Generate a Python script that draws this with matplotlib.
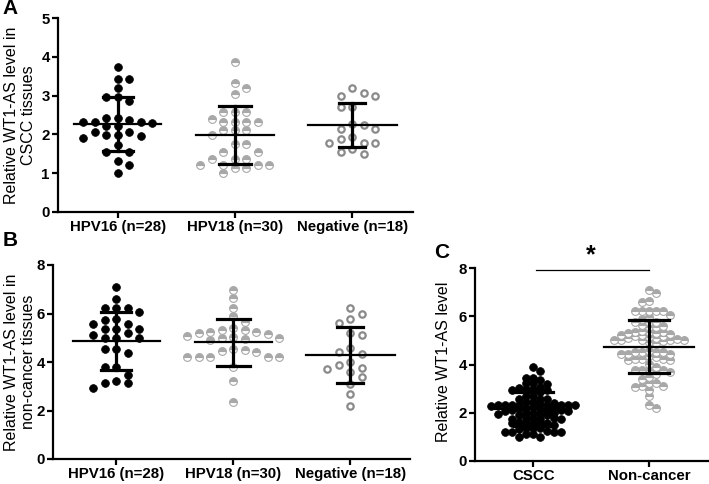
import numpy as np
import matplotlib.pyplot as plt

plt.rcParams['font.family'] = ['Liberation Sans', 'DejaVu Sans']

# ---- data ----
groups_ab = ["HPV16 (n=28)", "HPV18 (n=30)", "Negative (n=18)"]
groups_c = ["CSCC", "Non-cancer"]

a_hpv16 = [3.75, 3.43, 3.43, 3.21, 2.96, 2.96, 2.87, 2.43, 2.43, 2.37, 2.32, 2.32, 2.30, 2.32,
           2.21, 2.21, 2.07, 2.07, 1.98, 1.98, 1.95, 1.90, 1.72, 1.55, 1.55, 1.31, 1.22, 0.99]
a_hpv18 = [3.88, 3.34, 3.21, 3.03, 2.58, 2.58, 2.58, 2.40, 2.32, 2.32, 2.32, 2.32, 2.11, 2.11, 2.11,
           1.98, 1.74, 1.74, 1.55, 1.55, 1.35, 1.35, 1.35, 1.21, 1.21, 1.21, 1.21, 1.12, 1.12, 0.99]
a_neg = [3.19, 3.08, 3.00, 3.00, 2.70, 2.70, 2.27, 2.24, 2.13, 2.13, 1.94, 1.88, 1.77, 1.77, 1.77,
         1.61, 1.55, 1.49]

b_hpv16 = [7.10, 6.60, 6.21, 6.21, 6.21, 6.05, 5.78, 5.75, 5.55, 5.55, 5.37, 5.37, 5.35, 5.18,
           5.11, 5.00, 5.00, 5.00, 4.54, 4.54, 4.36, 3.78, 3.78, 3.46, 3.22, 3.12, 3.12, 2.92]
b_hpv18 = [6.97, 6.63, 6.21, 5.88, 5.65, 5.40, 5.33, 5.30, 5.25, 5.22, 5.18, 5.15, 5.08, 5.02, 5.00,
           4.98, 4.95, 4.90, 4.52, 4.50, 4.45, 4.42, 4.22, 4.22, 4.20, 4.20, 4.22, 3.78, 3.22, 2.33]
b_neg = [6.21, 5.98, 5.76, 5.62, 5.21, 5.11, 4.56, 4.42, 4.32, 4.01, 3.88, 3.77, 3.70, 3.60, 3.39,
         3.08, 2.68, 2.19]

# panel C pools the groups of A and B
c_cscc = a_hpv16 + a_hpv18 + a_neg
c_noncancer = b_hpv16 + b_hpv18 + b_neg

a_mean = [2.27, 1.98, 2.24]
a_sd = [0.69, 0.75, 0.56]
b_mean = [4.87, 4.81, 4.29]
b_sd = [1.20, 0.96, 1.14]
c_mean = [2.15, 4.74]
c_sd = [0.69, 1.11]

# marker styles
black_dot = dict(marker='o', ms=5.6, color='black', mec='black', mew=0.5)
half_dot = dict(marker='o', ms=5.6, fillstyle='top', markerfacecolor='#a8a8a8',
                markerfacecoloralt='white', markeredgecolor='#a8a8a8', mew=0.8)
open_dot = dict(marker='o', ms=4.6, markerfacecolor='white', markeredgecolor='#8a8a8a', mew=1.6)

W, H = 709, 484
fig = plt.figure(figsize=(W / 100, H / 100), dpi=100)


def axes_px(left, top, right, bottom):
    return fig.add_axes([left / W, 1 - bottom / H, (right - left) / W, (bottom - top) / H])


def swarm(vals, ppu_y, step, min_dy):
    # simple beeswarm: grid of half steps, closest to centre first
    vals = np.asarray(vals, float)
    order = np.argsort(-vals, kind='stable')
    placed = []
    offs = np.zeros(len(vals))
    side = 1
    for i in order:
        y = vals[i] * ppu_y
        cands = [0.0]
        for k in range(1, 60):
            cands += [side * k * step / 2, -side * k * step / 2]
        for c in cands:
            if all(not (abs(c - px) < step * 0.99 and abs(y - py) < min_dy) for px, py in placed):
                break
        if c != 0:
            side = -1 if c > 0 else 1
        placed.append((c, y))
        offs[i] = c
    return offs


def style(ax):
    for s in ['top', 'right']:
        ax.spines[s].set_visible(False)
    for s in ['left', 'bottom']:
        ax.spines[s].set_linewidth(1.6)
    ax.tick_params(width=1.6, length=4, labelsize=10.8, pad=2)
    for lab in ax.get_xticklabels() + ax.get_yticklabels():
        lab.set_fontweight('bold')


def draw_panel(ax, data, styles, means, sds, xlim, ylim, step, min_dy, mw, cw):
    ax.set_xlim(*xlim)
    ax.set_ylim(*ylim)
    bbox = ax.get_position()
    ppu_x = bbox.width * W / (xlim[1] - xlim[0])
    ppu_y = bbox.height * H / (ylim[1] - ylim[0])
    for i, (vals, st) in enumerate(zip(data, styles)):
        offs = swarm(vals, ppu_y, step, min_dy)
        ax.plot(i + offs / ppu_x, vals, linestyle='none', clip_on=False, zorder=2, **st)
    for i, (m, s) in enumerate(zip(means, sds)):
        ax.plot([i - mw[i], i + mw[i]], [m, m], color='black', lw=1.6, zorder=3)
        ax.plot([i, i], [m - s, m + s], color='black', lw=2.3, zorder=3)
        for v in (m - s, m + s):
            ax.plot([i - cw[i], i + cw[i]], [v, v], color='black', lw=2.3, zorder=3)


# Panel A
axA = axes_px(58, 18.3, 413, 211.7)
draw_panel(axA, [a_hpv16, a_hpv18, a_neg], [black_dot, half_dot, open_dot], a_mean, a_sd,
           (-0.51, 2.52), (0, 5), 11.5, 8, [0.37, 0.33, 0.38], [0.13, 0.14, 0.11])
axA.set_xticks(range(3))
axA.set_xticklabels(groups_ab)
axA.set_yticks(range(0, 6))
style(axA)

# Panel B
axB = axes_px(53, 265, 410, 459)
draw_panel(axB, [b_hpv16, b_hpv18, b_neg], [black_dot, half_dot, open_dot], b_mean, b_sd,
           (-0.54, 2.51), (0, 8), 11.5, 8, [0.37, 0.33, 0.38], [0.13, 0.14, 0.11])
axB.set_xticks(range(3))
axB.set_xticklabels(groups_ab)
axB.set_yticks(range(0, 9, 2))
style(axB)

# Panel C
axC = axes_px(475, 268.3, 709, 460.7)
draw_panel(axC, [c_cscc, c_noncancer], [black_dot, half_dot], c_mean, c_sd,
           (-0.504, 1.52), (0, 8), 7.0, 4.5, [0.33, 0.39], [0.17, 0.17])
axC.set_xticks(range(2))
axC.set_xticklabels(groups_c)
axC.set_yticks(range(0, 9, 2))
style(axC)
axC.plot([0.02, 1.0], [7.93, 7.93], color='black', lw=0.9, clip_on=False)
axC.text(0.5, 8.05, '*', ha='center', va='bottom', fontsize=18, fontweight='bold')

# y labels
fig.text(20 / W, 1 - 115 / H, 'Relative WT1-AS level in\nCSCC tissues', rotation=90,
         ha='center', va='center', multialignment='center', fontsize=11.5, linespacing=1.15)
fig.text(20 / W, 1 - 362 / H, 'Relative WT1-AS level in\nnon-cancer tissues', rotation=90,
         ha='center', va='center', multialignment='center', fontsize=11.5, linespacing=1.15)
fig.text(443 / W, 1 - 362 / H, 'Relative WT1-AS level', rotation=90,
         ha='center', va='center', fontsize=11.5)

# panel letters
for letter, x, y in [('A', 10, 9), ('B', 10, 240), ('C', 442, 253)]:
    fig.text(x / W, 1 - y / H, letter, ha='center', va='center', fontsize=15, fontweight='bold')

fig.savefig('out.png', dpi=100)
